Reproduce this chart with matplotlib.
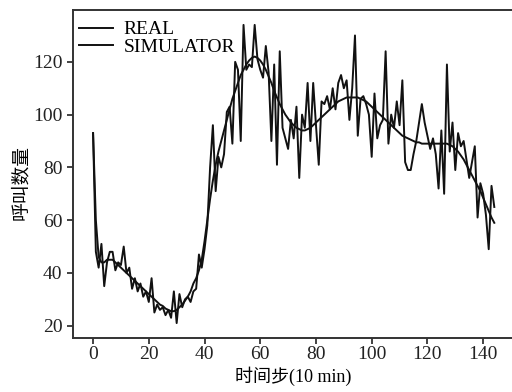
import matplotlib
matplotlib.use("Agg")
import matplotlib.pyplot as plt

steps = list(range(145))

real = [93, 48, 42, 51, 35, 44, 48, 48, 41, 44,
        43, 50, 40, 42, 34, 38, 33, 36, 31, 33,
        29, 38, 25, 28, 26, 27, 24, 26, 23, 33,
        21, 32, 27, 30, 31, 29, 33, 34, 47, 42,
        49, 58, 80, 96, 71, 84, 80, 85, 101, 103,
        89, 120, 117, 90, 134, 117, 119, 118, 134, 121,
        117, 114, 126, 116, 90, 119, 81, 124, 95, 91,
        87, 98, 91, 103, 76, 100, 95, 112, 90, 112,
        96, 81, 105, 104, 107, 102, 110, 102, 112, 115,
        110, 113, 98, 110, 130, 92, 106, 107, 104, 100,
        84, 108, 91, 96, 98, 124, 89, 100, 95, 105,
        96, 113, 82, 79, 79, 85, 90, 97, 104, 97,
        92, 87, 91, 85, 72, 94, 70, 119, 86, 97,
        79, 93, 88, 90, 83, 76, 82, 88, 61, 74,
        70, 62, 49, 73, 65]

simulator = [93, 60, 46, 44, 44, 45, 45, 45, 44, 43,
             42, 41, 40, 39, 38, 37, 36, 35, 34, 33,
             32, 31, 30, 29, 28, 27.5, 26.5, 26, 25.5, 25.5,
             26, 27, 28, 29.5, 31, 33, 36, 38, 41, 45,
             52, 60, 68, 75, 81, 86, 90, 94, 98, 102,
             106, 109, 112, 115, 117, 119, 120.5, 121.5, 122, 121.5,
             120.5, 119, 117, 114.5, 112, 109, 106.5, 104, 102, 100,
             98.5, 97, 96, 95, 94.5, 94, 94, 94.5, 95, 96,
             97, 98, 99, 100, 101, 102, 103, 104, 105, 105.5,
             106, 106.5, 106.5, 106.5, 106.5, 106.5, 106, 105.5, 105, 104,
             103, 102, 101, 100, 99, 98, 97, 96, 95, 94,
             93, 92, 91.5, 91, 90.5, 90, 89.5, 89.5, 89, 89,
             89, 89, 89, 89, 89, 89, 89, 89, 88.5, 88,
             87, 86, 84.5, 83, 81, 79, 77, 75, 73, 71,
             68.5, 66, 63.5, 61, 59]

serif = ['Liberation Serif', 'Noto Sans CJK SC']
plt.rcParams['font.family'] = serif

fig = plt.figure(figsize=(5.12, 3.92), dpi=100)
ax = fig.add_axes([0.1426, 0.1378, 0.862, 0.8367])

ax.plot(steps, real, color='#111111', lw=1.4, label='REAL')
ax.plot(steps, simulator, color='#111111', lw=1.4, label='SIMULATOR')

ax.set_xticks([0, 20, 40, 60, 80, 100, 120, 140])
ax.set_yticks([20, 40, 60, 80, 100, 120])
ax.tick_params(labelsize=14, direction='out', length=4, width=1.2, colors='#222222')
ax.tick_params(axis='x', pad=2)
for s in ax.spines.values():
    s.set_linewidth(1.4)
    s.set_color('#333333')

ax.set_xlabel('时间步(10 min)', fontsize=13, family=serif, labelpad=2)
ax.set_ylabel('呼叫数量', fontsize=13.5, family=['Noto Sans CJK SC'])
ax.yaxis.set_label_coords(-0.095, 0.475)

leg = ax.legend(loc='upper left', bbox_to_anchor=(0.0, 0.985), frameon=False, fontsize=14,
                handlelength=1.75, handletextpad=0.55, labelspacing=0.0,
                borderaxespad=0.1, borderpad=0.2)

fig.savefig('out.png', dpi=100)
